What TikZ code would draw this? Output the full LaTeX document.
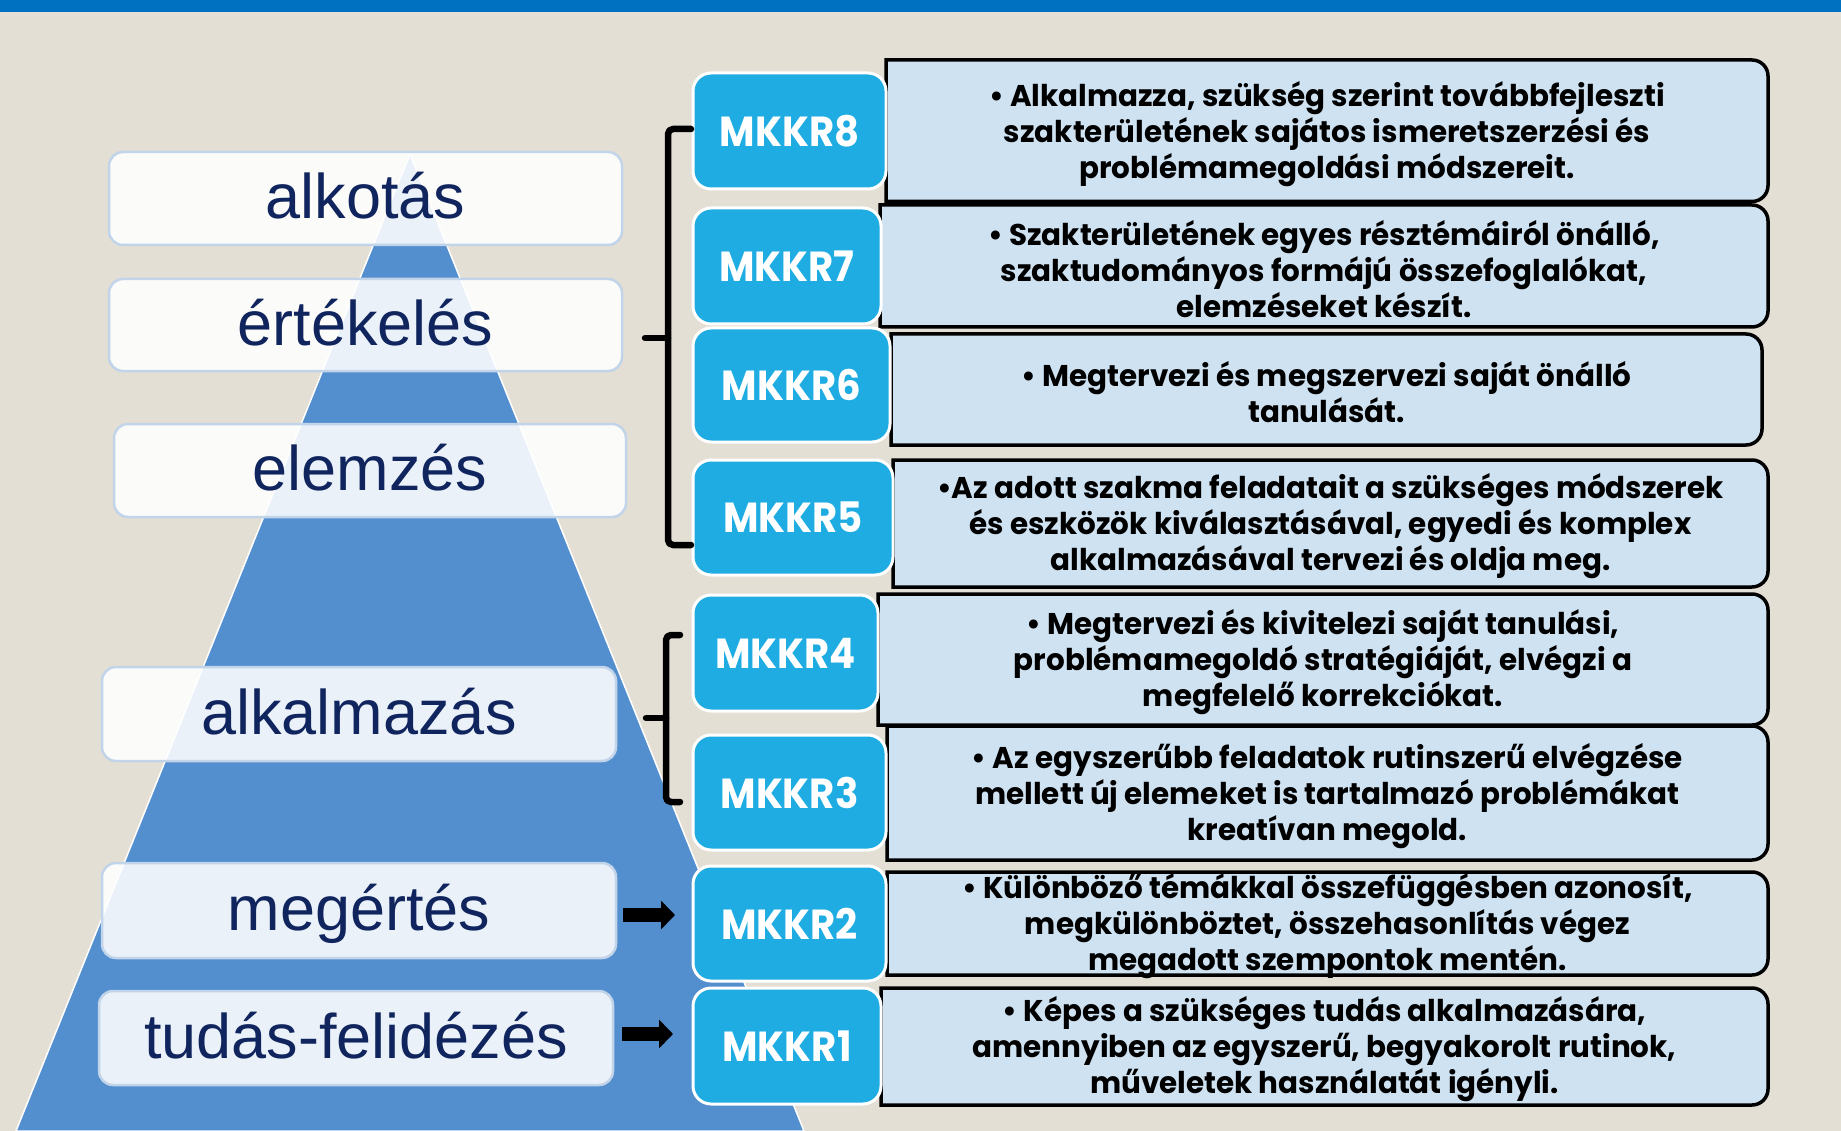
\documentclass[tikz,border=0pt]{standalone}
\usepackage{fontspec}
\setmainfont{Liberation Sans}
\newfontfamily\labfont{Liberation Sans}
\newfontfamily\boxfont[FakeStretch=0.98]{Poppins}
\newfontfamily\mkfont[FakeStretch=0.92]{Poppins}
\usetikzlibrary{arrows.meta}
\definecolor{bgc}{RGB}{228,223,212}
\definecolor{barc}{RGB}{0,112,192}
\definecolor{pyrc}{RGB}{83,142,206}
\definecolor{labborder}{RGB}{194,212,234}
\definecolor{labtext}{RGB}{16,36,94}
\definecolor{mkc}{RGB}{30,172,226}
\definecolor{tbc}{RGB}{207,226,242}
\pgfdeclarelayer{bgl}
\pgfdeclarelayer{fr}
\pgfsetlayers{bgl,fr,main}
\newcommand\tfr[4]{\filldraw[tframe] (#1,#4) -- (#1,#2) -- (#3-16,#2) arc[start angle=90,end angle=0,radius=16pt] -- (#3,#4-16) arc[start angle=0,end angle=-90,radius=16pt] -- cycle;}
\begin{document}
\begin{tikzpicture}[x=1pt,y=-1pt,
 lab/.style={rounded corners=14pt, fill=white, fill opacity=0.88, text opacity=1, draw=labborder, line width=2.5pt, inner sep=0pt, text=labtext, font=\labfont\fontsize{63}{63}\selectfont, text height=40pt, text depth=0pt},
 mk/.style={fill=mkc, draw=white, line width=3pt, rounded corners=18pt, text=white, inner sep=0pt, font=\mkfont\bfseries\fontsize{42}{42}\selectfont},
 tb/.style={align=center, inner sep=0pt, yshift=-3pt, font=\boxfont\bfseries\fontsize{30}{36}\selectfont},
 tframe/.style={fill=tbc, draw=black, line width=3.5pt},
 brk/.style={draw=black, line width=6.5pt, line cap=round, line join=round},
 bigarrow/.style={line width=14pt, -{Triangle[length=14pt,width=28pt]}}
]
\useasboundingbox (0,0) rectangle (1841,1131);
\begin{pgfonlayer}{bgl}
\fill[bgc] (0,0) rectangle (1841,1131);
\fill[barc] (0,0) rectangle (1841,12);
\coordinate (apex) at (410,154);
\coordinate (bl) at (16,1131);
\coordinate (br) at (804,1131);
\filldraw[fill=pyrc, draw=white, line width=1.5pt] (apex) -- (br) -- (bl) -- cycle;
\node[lab, minimum width=513pt, minimum height=93pt] (l6) at (365.5,198.5) {alkotás};
\node[lab, minimum width=513pt, minimum height=92pt] (l5) at (365.5,325) {értékelés};
\node[lab, minimum width=512pt, minimum height=93pt] (l4) at (370,470.5) {elemzés};
\node[lab, minimum width=514pt, minimum height=94pt] (l3) at (359,714) {alkalmazás};
\node[lab, minimum width=514pt, minimum height=95pt] (l2) at (359,910.5) {megértés};
\node[lab, minimum width=514pt, minimum height=94pt] (l1) at (356,1038) {tudás-felidézés};
\end{pgfonlayer}
\begin{pgfonlayer}{fr}
\tfr{886}{60}{1768}{201.5}
\tfr{880}{205}{1768}{327}
\tfr{891}{334}{1762}{445}
\tfr{893}{460}{1768}{587}
\tfr{878}{594}{1768}{725}
\tfr{887}{726}{1768}{860}
\tfr{887}{872}{1768}{975}
\tfr{881}{988}{1768}{1105}
\end{pgfonlayer}
\node[tb] (t8) at (1327,130.75) {• Alkalmazza, szükség szerint továbbfejleszti\\szakterületének sajátos ismeretszerzési és\\problémamegoldási módszereit.};
\node[tb] (t7) at (1324,266) {• Szakterületének egyes résztémáiról önálló,\\szaktudományos formájú összefoglalókat,\\elemzéseket készít.};
\node[tb] (t6) at (1326.5,389.5) {• Megtervezi és megszervezi saját önálló\\tanulását.};
\node[tb] (t5) at (1330.5,523.5) {•Az adott szakma feladatait a szükséges módszerek\\és eszközök kiválasztásával, egyedi és komplex\\alkalmazásával tervezi és oldja meg.};
\node[tb] (t4) at (1323,659.5) {• Megtervezi és kivitelezi saját tanulási,\\problémamegoldó stratégiáját, elvégzi a\\megfelelő korrekciókat.};
\node[tb] (t3) at (1327.5,793) {• Az egyszerűbb feladatok rutinszerű elvégzése\\mellett új elemeket is tartalmazó problémákat\\kreatívan megold.};
\node[tb] (t2) at (1327.5,923.5) {• Különböző témákkal összefüggésben azonosít,\\megkülönböztet, összehasonlítás végez\\megadott szempontok mentén.};
\node[tb] (t1) at (1324.5,1046.5) {• Képes a szükséges tudás alkalmazására,\\amennyiben az egyszerű, begyakorolt rutinok,\\műveletek használatát igényli.};
\node[mk, minimum width=193pt, minimum height=116pt] (m8) at (789.5,131) {MKKR8};
\node[mk, minimum width=188pt, minimum height=116pt] (m7) at (787,266) {MKKR7};
\node[mk, minimum width=197pt, minimum height=114pt] (m6) at (791.5,385) {MKKR6};
\node[mk, minimum width=200pt, minimum height=115pt] (m5) at (793,517.5) {MKKR5};
\node[mk, minimum width=185pt, minimum height=116pt] (m4) at (785.5,653) {MKKR4};
\node[mk, minimum width=193pt, minimum height=115pt] (m3) at (789.5,792.5) {MKKR3};
\node[mk, minimum width=193pt, minimum height=115pt] (m2) at (789.5,923.5) {MKKR2};
\node[mk, minimum width=188pt, minimum height=116pt] (m1) at (787,1046) {MKKR1};
% brackets
\coordinate (b1t) at (691,129);
\coordinate (b1b) at (691,545);
\coordinate (b1m) at (645,338);
\draw[brk, rounded corners=5pt] (b1t) -- (668,129) -- (668,545) -- (b1b);
\draw[brk] (668,338) -- (b1m);
\coordinate (b2t) at (680,635);
\coordinate (b2b) at (680,802);
\coordinate (b2m) at (646,718);
\draw[brk, rounded corners=5pt] (b2t) -- (666,635) -- (666,802) -- (b2b);
\draw[brk] (666,718) -- (b2m);
% arrows
\coordinate (a2s) at (623,915);
\coordinate (a2e) at (675,915);
\draw[bigarrow] (a2s) -- (a2e);
\coordinate (a1s) at (622,1034);
\coordinate (a1e) at (673,1034);
\draw[bigarrow] (a1s) -- (a1e);
\end{tikzpicture}
\end{document}
